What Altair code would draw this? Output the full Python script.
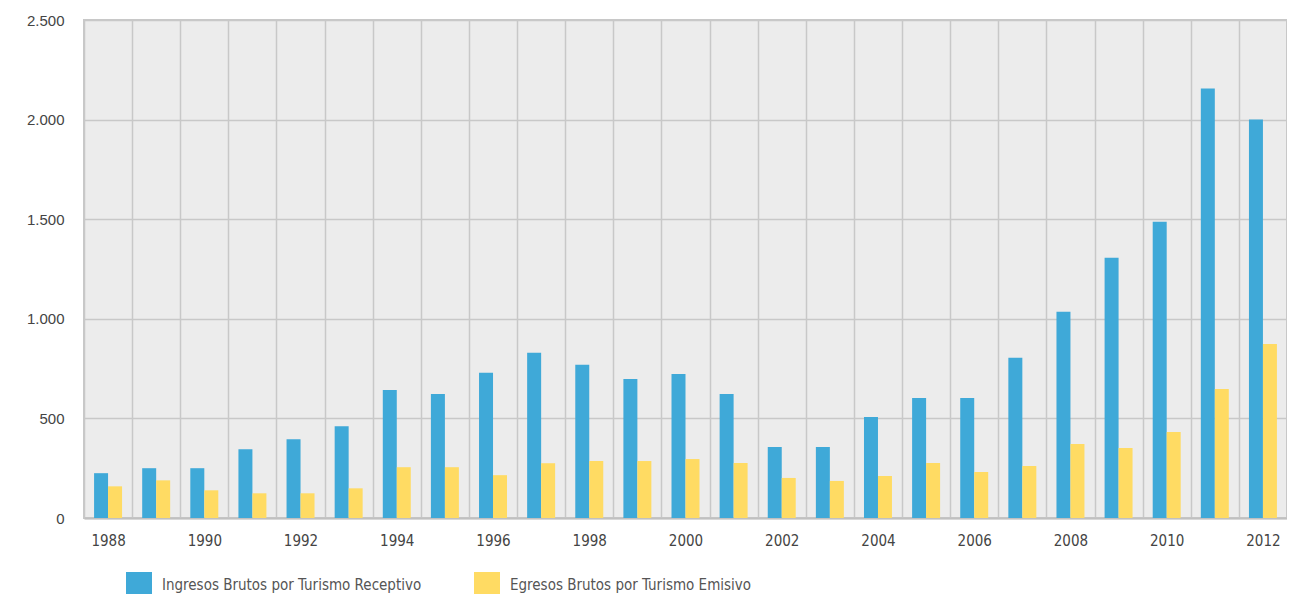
import altair as alt
import pandas as pd

years = [1988, 1989, 1990, 1991, 1992, 1993, 1994, 1995, 1996, 1997, 1998, 1999,
         2000, 2001, 2002, 2003, 2004, 2005, 2006, 2007, 2008, 2009, 2010, 2011, 2012]
ingresos = [225, 250, 250, 345, 395, 461, 642, 622, 729, 829, 769, 698,
            723, 623, 357, 357, 507, 603, 603, 804, 1035, 1306, 1487, 2156, 2000]
egresos = [159, 189, 139, 124, 124, 149, 255, 255, 215, 275, 286, 286,
           296, 276, 201, 186, 211, 276, 231, 261, 372, 352, 432, 648, 874]

series = ["Ingresos Brutos por Turismo Receptivo", "Egresos Brutos por Turismo Emisivo"]
colors = ["#3fa9d8", "#ffdb63"]
y_ticks = [0, 500, 1000, 1500, 2000, 2500]

NARROW = "'DejaVu Sans Condensed', 'Liberation Sans Narrow', Roboto, sans-serif"

rows = []
for i, yr in enumerate(years):
    rows.append({"year": yr, "serie": series[0], "valor": ingresos[i]})
    rows.append({"year": yr, "serie": series[1], "valor": egresos[i]})
df = pd.DataFrame(rows)

chart = alt.Chart(df).mark_bar().encode(
    x=alt.X("year:O", title=None,
            scale=alt.Scale(paddingInner=0, paddingOuter=0),
            axis=alt.Axis(tickBand="extent", grid=True, ticks=False, labelAngle=0,
                          labelExpr="datum.value % 2 == 0 ? datum.label : ''",
                          labelFont=NARROW, labelFontSize=15,
                          labelColor="#444444", labelPadding=15,
                          domainColor="#c0c0c0", domainWidth=2,
                          gridColor="#c8c8c8", gridWidth=1.5)),
    xOffset=alt.XOffset("serie:N", sort=series,
                        scale=alt.Scale(paddingInner=0, paddingOuter=0.72)),
    y=alt.Y("valor:Q", title=None,
            scale=alt.Scale(domain=[0, 2500], nice=False),
            axis=alt.Axis(values=y_ticks, ticks=False, domain=False,
                          labelExpr="replace(format(datum.value, ','), ',', '.')",
                          labelFont="Liberation Sans", labelFontSize=15,
                          labelColor="#444444", labelPadding=20,
                          gridColor="#c8c8c8", gridWidth=1.5)),
    color=alt.Color("serie:N", sort=series,
                    scale=alt.Scale(domain=series, range=colors),
                    legend=alt.Legend(title=None, orient="none", direction="horizontal",
                                      legendX=42, legendY=552, padding=0,
                                      symbolType="square", symbolSize=676,
                                      symbolStrokeWidth=0, symbolOpacity=1,
                                      labelFont=NARROW, labelFontSize=15,
                                      labelColor="#555555", labelOffset=10,
                                      labelLimit=500, columnPadding=52)),
).properties(
    width=1203, height=498,
    autosize=alt.AutoSizeParams(type="none"),
    padding={"left": 76, "top": 12, "right": 0, "bottom": 76},
    background="white",
).configure_view(
    fill="#ececec", stroke="#c8c8c8", strokeWidth=2
)

chart.save("out.html", embed_options={"renderer": "svg", "actions": False})
